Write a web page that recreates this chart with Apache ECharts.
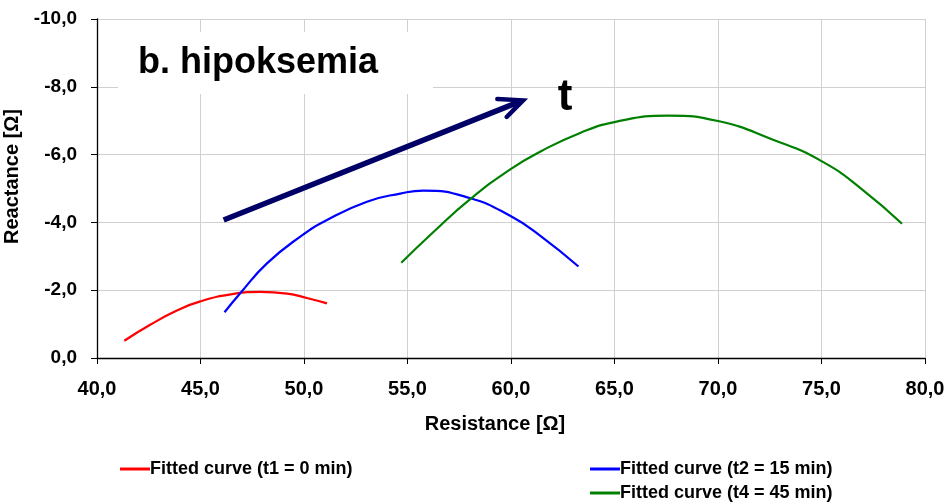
<!DOCTYPE html>
<html>
<head>
<meta charset="utf-8">
<script src="https://cdn.jsdelivr.net/npm/echarts@6/dist/echarts.min.js"></script>
<style>
  html, body { margin: 0; padding: 0; background: #fff; }
  #chart { width: 949px; height: 504px; }
</style>
</head>
<body>
<div id="chart"></div>
<script>
// points: [resistance, reactance]
var curveT1 = [[41.32, -0.51], [42.57, -0.98], [43.86, -1.40], [44.99, -1.67], [46.60, -1.89],
  [47.89, -1.95], [49.18, -1.90], [50.14, -1.77], [51.11, -1.61]];
var curveT2 = [[46.16, -1.35], [46.92, -1.91], [48.21, -2.79], [49.82, -3.58], [51.11, -4.07],
  [53.04, -4.61], [54.65, -4.85], [55.76, -4.94], [58.0, -4.72], [60.0, -4.18], [61.45, -3.59], [63.26, -2.70]];
var curveT4 = [[54.70, -2.81], [56.28, -3.73], [58.0, -4.67], [60.0, -5.58], [61.45, -6.10],
  [63.34, -6.64], [65.0, -6.96], [67.6, -7.15], [70.0, -6.99], [72.66, -6.44], [75.02, -5.80],
  [76.97, -4.97], [78.89, -3.96]];
// arrow "t" annotation
var arrowShaft = [[46.12, -4.07], [60.45, -7.57]];
var arrowHead = [[59.34, -7.64], [60.58, -7.60], [59.79, -7.11]];

var names = ['Fitted curve (t1 = 0 min)', 'Fitted curve (t2 = 15 min)', 'Fitted curve (t4 = 45 min)'];
var colors = ['#ff0000', '#0000ff', '#008000'];

var font = '"Liberation Sans", Arial, sans-serif';
var chart = echarts.init(document.getElementById('chart'));

function comma(v) {
  return v.toFixed(1).replace('.', ',');
}

function curve(name, data, color) {
  return {
    name: name,
    type: 'line',
    data: data,
    smooth: 0.5,
    symbol: 'none',
    color: color,
    lineStyle: { color: color, width: 2.2 },
    z: 3
  };
}

var legendText = { fontFamily: font, fontWeight: 'bold', fontSize: 18, color: '#000', padding: [0, 0, 0, -5] };

var option = {
  animation: false,
  backgroundColor: '#fff',
  grid: { left: 97, right: 24, top: 19, bottom: 146, containLabel: false, outerBoundsMode: 'none' },
  xAxis: {
    type: 'value',
    min: 40, max: 80, interval: 5,
    name: 'Resistance [Ω]',
    nameLocation: 'middle',
    nameGap: 56,
    nameTextStyle: { fontFamily: font, fontWeight: 'bold', fontSize: 20, color: '#000', padding: [0, 32, 0, 0] },
    axisLine: { show: true, onZero: false, lineStyle: { color: '#000', width: 1.3 } },
    axisTick: { show: true, length: 6, lineStyle: { color: '#000' } },
    axisLabel: { formatter: comma, fontFamily: font, fontWeight: 'bold', fontSize: 20, color: '#000', margin: 21 },
    splitLine: { show: true, lineStyle: { color: '#d0d0d0', width: 1 } }
  },
  yAxis: {
    type: 'value',
    inverse: true,
    min: -10, max: 0, interval: 2,
    name: 'Reactance [Ω]',
    nameLocation: 'middle',
    nameGap: 65,
    nameTextStyle: { fontFamily: font, fontWeight: 'bold', fontSize: 20, color: '#000', padding: [0, 0, 0, 24] },
    axisLine: { show: true, onZero: false, lineStyle: { color: '#000', width: 1.3 } },
    axisTick: { show: true, length: 6, lineStyle: { color: '#000' } },
    axisLabel: { formatter: comma, fontFamily: font, fontWeight: 'bold', fontSize: 19, color: '#000', margin: 20 },
    splitLine: { show: true, lineStyle: { color: '#d0d0d0', width: 1 } }
  },
  legend: [
    {
      data: [names[0]],
      left: 120, top: 460, padding: 0,
      icon: 'rect', itemWidth: 30, itemHeight: 3,
      textStyle: legendText
    },
    {
      data: [names[1], names[2]],
      left: 590, top: 460, padding: 0,
      orient: 'vertical', itemGap: 6,
      icon: 'rect', itemWidth: 30, itemHeight: 3,
      textStyle: legendText
    }
  ],
  graphic: [
    {
      type: 'rect', z: 50,
      shape: { x: 118, y: 32, width: 315, height: 62 },
      style: { fill: '#fff' }
    },
    {
      type: 'text', z: 51, x: 138, y: 63,
      style: { text: 'b. hipoksemia', font: 'bold 36px ' + font, fill: '#000', verticalAlign: 'middle' }
    },
    {
      type: 'text', z: 51, x: 565, y: 98,
      style: { text: 't', font: 'bold 44px ' + font, fill: '#000', align: 'center', verticalAlign: 'middle' }
    }
  ],
  series: [
    curve(names[0], curveT1, colors[0]),
    curve(names[1], curveT2, colors[1]),
    curve(names[2], curveT4, colors[2]),
    {
      type: 'line', data: arrowShaft, symbol: 'none', silent: true,
      lineStyle: { color: '#000066', width: 5.5 }, z: 4
    },
    {
      type: 'line', data: arrowHead, symbol: 'none', silent: true,
      lineStyle: { color: '#000066', width: 4.5, cap: 'round', join: 'miter' }, z: 4
    }
  ]
};

chart.setOption(option);
</script>
</body>
</html>
